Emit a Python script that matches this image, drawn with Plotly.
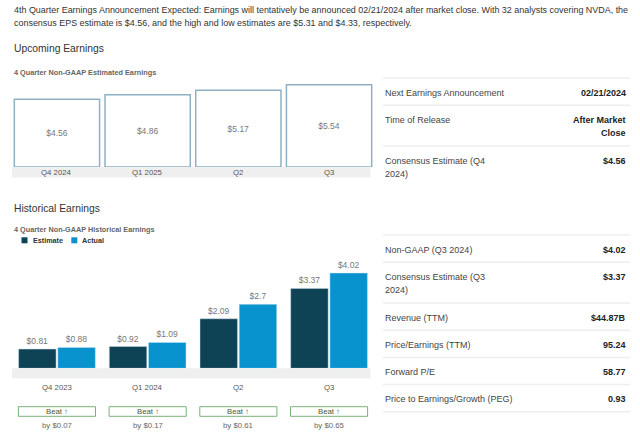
import plotly.graph_objects as go

W, H = 640, 438
def X(px): return px / W
def Y(py): return 1 - py / H

# ---------------- data ----------------
header_lines = [
    "4th Quarter Earnings Announcement Expected: Earnings will tentatively be announced 02/21/2024 after market close. With 32 analysts covering NVDA, the",
    "consensus EPS estimate is $4.56, and the high and low estimates are $5.31 and $4.33, respectively.",
]

upcoming_quarters = ["Q4 2024", "Q1 2025", "Q2", "Q3"]
upcoming_eps = [4.56, 4.86, 5.17, 5.54]

hist_quarters = ["Q4 2023", "Q1 2024", "Q2", "Q3"]
hist_estimate = [0.81, 0.92, 2.09, 3.37]
hist_actual = [0.88, 1.09, 2.70, 4.02]

upcoming_table_labels = ["Next Earnings Announcement", "Time of Release", "Consensus Estimate (Q4\n2024)"]
upcoming_table_values = ["02/21/2024", "After Market\nClose", "$4.56"]

hist_table_labels = ["Non-GAAP (Q3 2024)", "Consensus Estimate (Q3\n2024)", "Revenue (TTM)",
                     "Price/Earnings (TTM)", "Forward P/E", "Price to Earnings/Growth (PEG)"]
hist_table_values = ["$4.02", "$3.37", "$44.87B", "95.24", "58.77", "0.93"]

# ---------------- style ----------------
FONT = "Liberation Sans, Arial, sans-serif"
C_EST = "#0e4356"
C_ACT = "#0893cf"
C_OUTLINE = "#8db0c2"
C_BAND = "#efefef"

fig = go.Figure()

fig.add_trace(go.Bar(
    x=upcoming_quarters, y=upcoming_eps, xaxis="x", yaxis="y",
    width=0.94,
    marker=dict(color="white", line=dict(color=C_OUTLINE, width=1.5)),
    texttemplate="$%{y}", textposition="inside", insidetextanchor="middle",
    textfont=dict(color="#777", size=8.5, family=FONT), constraintext="none",
    showlegend=False, hoverinfo="skip",
))

fig.add_trace(go.Bar(
    name="Estimate", x=hist_quarters, y=hist_estimate, xaxis="x2", yaxis="y2",
    marker=dict(color=C_EST, line=dict(color="rgba(200,220,230,0.6)", width=0.8)),
    texttemplate="$%{y}", textposition="outside", cliponaxis=False,
    textfont=dict(color="#777", size=8.5, family=FONT), constraintext="none",
    showlegend=False, hoverinfo="skip",
))
fig.add_trace(go.Bar(
    name="Actual", x=hist_quarters, y=hist_actual, xaxis="x2", yaxis="y2",
    marker=dict(color=C_ACT, line=dict(color="rgba(200,225,240,0.6)", width=0.8)),
    texttemplate="$%{y}", textposition="outside", cliponaxis=False,
    textfont=dict(color="#777", size=8.5, family=FONT), constraintext="none",
    showlegend=False, hoverinfo="skip",
))

annotations = []
shapes = []

def txt(x, y, text, size=9, color="#333", bold=False, xanchor="left", xref="paper"):
    if bold:
        text = "<b>" + text + "</b>"
    annotations.append(dict(x=x, y=y, xref=xref, yref="paper", text=text, showarrow=False,
                            xanchor=xanchor, yanchor="middle",
                            font=dict(size=size, color=color, family=FONT)))

# header
txt(X(12), Y(10), header_lines[0], size=8.95, color="#333")
txt(X(12), Y(23), header_lines[1], size=8.95, color="#333")

# section titles
txt(X(12), Y(49), "Upcoming Earnings", size=10.3, color="#333")
txt(X(12), Y(73), "4 Quarter Non-GAAP Estimated Earnings", size=7.3, color="#666", bold=True)
txt(X(12), Y(208), "Historical Earnings", size=10.3, color="#333")
txt(X(12), Y(229.5), "4 Quarter Non-GAAP Historical Earnings", size=7.3, color="#666", bold=True)

# legend (manual)
for sx, tx, col, name in [(21.5, 30.5, C_EST, "Estimate"), (71.3, 80.3, C_ACT, "Actual")]:
    shapes.append(dict(type="rect", xref="paper", yref="paper", x0=X(sx), x1=X(sx + 6),
                       y0=Y(243.3), y1=Y(237.3), fillcolor=col, line=dict(width=0)))
    txt(X(tx), Y(240.5), name, size=7.2, color="#333", bold=True)

# gray category bands
for top, bot in [(167, 177.5), (368.3, 378.3)]:
    shapes.append(dict(type="rect", xref="paper", yref="paper", x0=X(12), x1=X(370.5),
                       y0=Y(bot), y1=Y(top), fillcolor=C_BAND, line=dict(width=0), layer="above"))

# category labels
for q in upcoming_quarters:
    txt(q, Y(172.3), q, size=7.8, color="#555", xanchor="center", xref="x")
for i, q in enumerate(hist_quarters):
    txt(q, Y(387.5), q, size=7.8, color="#555", xanchor="center", xref="x2")
    # beat boxes
    shapes.append(dict(type="rect", xref="x2", yref="paper", x0=i - 0.425, x1=i + 0.425,
                       y0=Y(416.3), y1=Y(406.7), fillcolor="white",
                       line=dict(color="#79b279", width=1)))
    txt(q, Y(411.5), "Beat \u2191", size=7.8, color="#4a5a3a", xanchor="center", xref="x2")
    diff = hist_actual[i] - hist_estimate[i]
    txt(q, Y(425.3), "by $%.2f" % diff, size=7.8, color="#666", xanchor="center", xref="x2")

# right-side tables
def table(top, labels, values, draw_last=True):
    y = top
    shapes.append(dict(type="line", xref="paper", yref="paper", x0=X(383), x1=X(630),
                       y0=Y(y), y1=Y(y), line=dict(color="#eeeeee", width=1.5)))
    for k, (lab, val) in enumerate(zip(labels, values)):
        llines = lab.split("\n")
        vlines = val.split("\n")
        for j, l in enumerate(llines):
            txt(X(383), Y(y + 14.5 + 13.4 * j), l, size=9, color="#444")
        for j, v in enumerate(vlines):
            txt(X(628), Y(y + 14.5 + 13.4 * j), v, size=9, color="#222", bold=True, xanchor="right")
        n = max(len(llines), len(vlines))
        y = y + 27.2 + 13.6 * (n - 1)
        if draw_last or k < len(labels) - 1:
            shapes.append(dict(type="line", xref="paper", yref="paper", x0=X(383), x1=X(630),
                               y0=Y(y), y1=Y(y), line=dict(color="#eeeeee", width=1.5)))

table(78, upcoming_table_labels, upcoming_table_values, draw_last=False)
table(235, hist_table_labels, hist_table_values, draw_last=True)

ax_common = dict(type="category", showgrid=False, zeroline=False, showline=False,
                 showticklabels=False, ticks="", fixedrange=True)

fig.update_layout(
    width=W, height=H, margin=dict(l=0, r=0, t=0, b=0),
    paper_bgcolor="white", plot_bgcolor="white",
    barmode="group", bargap=0.135, bargroupgap=0.045,
    xaxis=dict(domain=[X(11.6), X(374.4)], anchor="y", **ax_common),
    yaxis=dict(domain=[Y(167), Y(75)], range=[0, (167 - 75) / 14.85], visible=False, fixedrange=True),
    xaxis2=dict(domain=[X(11.6), X(374.4)], anchor="y2", **ax_common),
    yaxis2=dict(domain=[Y(368.3), Y(250)], range=[0, (368.3 - 250) / 23.7], visible=False, fixedrange=True),
    annotations=annotations, shapes=shapes,
    font=dict(family=FONT),
)

fig.write_html("out.html", config={"displayModeBar": False})
